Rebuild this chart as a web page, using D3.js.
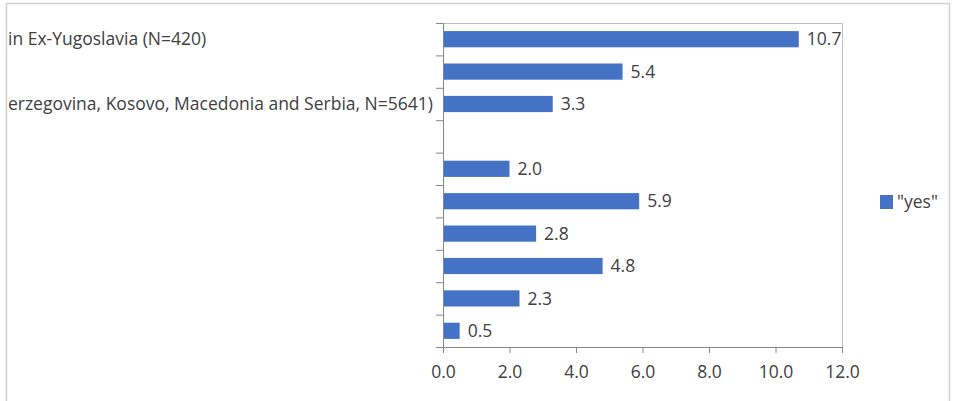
<!DOCTYPE html>
<html>
<head>
<meta charset="utf-8">
<script src="https://cdn.jsdelivr.net/npm/d3@7"></script>
<style>
  body { margin: 0; background: #fff; }
  svg text { font-family: "Open Sans", "Noto Sans", sans-serif; fill: #404040; }
</style>
</head>
<body>
<div id="chart"></div>
<script>
// category labels, top to bottom (only two are shown in the original, the rest are blank)
var categories = [
  "in Ex-Yugoslavia (N=420)",
  "",
  "erzegovina, Kosovo, Macedonia and Serbia, N=5641)",
  "",
  "",
  "",
  "",
  "",
  "",
  ""
]
// share answering "yes", null = no bar
var yesValues = [10.7, 5.4, 3.3, null, 2.0, 5.9, 2.8, 4.8, 2.3, 0.5]
var xTicks = [0, 2, 4, 6, 8, 10, 12]
var seriesName = '"yes"'

var width = 960
var height = 401
var margin = { top: 23, right: 118, bottom: 54, left: 443 }
var fontSize = "17.5px"

var svg = d3.select("#chart")
  .append("svg")
  .attr("width", width)
  .attr("height", height)

// labels get cut off at the chart frame
svg.append("clipPath")
  .attr("id", "frame-clip")
  .append("rect")
  .attr("x", 7.5)
  .attr("y", 4)
  .attr("width", 942)
  .attr("height", 397)

var x = d3.scaleLinear()
  .domain([0, 12])
  .range([margin.left, width - margin.right])

var y = d3.scaleBand()
  .domain(d3.range(categories.length))
  .range([margin.top, height - margin.bottom])
  .paddingInner(0.5)
  .paddingOuter(0.25)

// plot area border (top and right)
svg.append("path")
  .attr("d", "M" + x(0) + "," + (margin.top + 0.5) + "H" + (x(12) + 0.5) + "V" + (height - margin.bottom))
  .attr("fill", "none")
  .attr("stroke", "#bfbfbf")

// bars
var data = yesValues.map(function(v, i) { return { i: i, v: v } })
  .filter(function(d) { return d.v != null })

svg.append("g")
  .selectAll("rect")
  .data(data)
  .enter().append("rect")
  .attr("x", x(0))
  .attr("y", function(d) { return y(d.i) })
  .attr("width", function(d) { return x(d.v) - x(0) })
  .attr("height", y.bandwidth())
  .attr("fill", "#4472c4")

// value labels
svg.append("g")
  .selectAll("text")
  .data(data)
  .enter().append("text")
  .attr("x", function(d) { return x(d.v) + 8 })
  .attr("y", function(d) { return y(d.i) + y.bandwidth() / 2 })
  .attr("dy", "0.35em")
  .style("font-size", fontSize)
  .text(function(d) { return d.v.toFixed(1) })

// x axis
var xAxis = svg.append("g")
  .attr("transform", "translate(0," + (height - margin.bottom) + ")")
  .call(d3.axisBottom(x).tickValues(xTicks).tickSize(6).tickSizeOuter(6)
    .tickFormat(d3.format(".1f")))
xAxis.selectAll("text").style("font-size", fontSize).attr("y", 25).attr("dy", "0.35em")
xAxis.selectAll("line, path").attr("stroke", "#868686")

// y axis: boundary ticks between categories
var yBound = d3.scaleLinear()
  .domain([0, categories.length])
  .range([margin.top, height - margin.bottom])
var yAxis = svg.append("g")
  .attr("transform", "translate(" + x(0) + ",0)")
  .call(d3.axisLeft(yBound).ticks(categories.length).tickSize(7).tickSizeOuter(0).tickFormat(""))
yAxis.selectAll("line, path").attr("stroke", "#868686")

// category labels: the long wrapped labels are cut at the left frame,
// the first one shows its line starting at the frame
svg.append("g")
  .attr("clip-path", "url(#frame-clip)")
  .selectAll("text")
  .data(categories)
  .enter().append("text")
  .attr("x", function(d, i) { return i === 0 ? 8 : x(0) - 10 })
  .attr("y", function(d, i) { return y(i) + y.bandwidth() / 2 })
  .attr("dy", "0.35em")
  .attr("text-anchor", function(d, i) { return i === 0 ? "start" : "end" })
  .style("font-size", fontSize)
  .text(function(d) { return d })

// outer chart frame
svg.append("rect")
  .attr("x", 6.5)
  .attr("y", 3.5)
  .attr("width", 943)
  .attr("height", 420)
  .attr("fill", "none")
  .attr("stroke", "#d0d0d0")
  .attr("stroke-width", 1.5)

// legend
var legend = svg.append("g")
  .attr("transform", "translate(880,195)")
legend.append("rect")
  .attr("width", 13)
  .attr("height", 14)
  .attr("fill", "#4472c4")
legend.append("text")
  .attr("x", 17)
  .attr("y", 7)
  .attr("dy", "0.35em")
  .style("font-size", fontSize)
  .text(seriesName)
</script>
</body>
</html>
